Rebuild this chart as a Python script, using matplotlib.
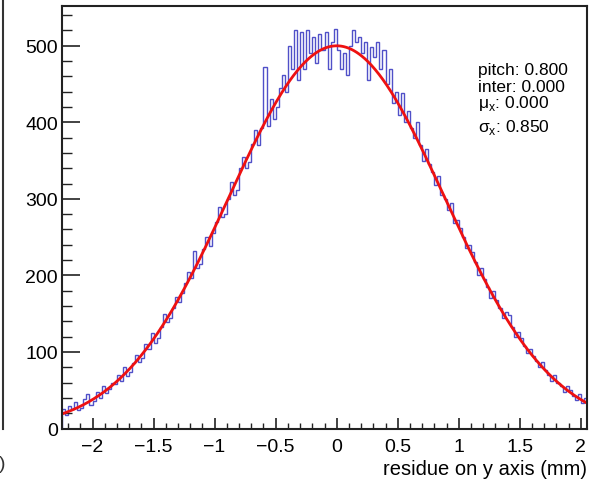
import matplotlib

matplotlib.use("Agg")
import matplotlib.pyplot as plt
import numpy as np
from matplotlib.lines import Line2D
from matplotlib.ticker import MultipleLocator

plt.rcParams["font.family"] = ["Liberation Sans", "DejaVu Sans"]
plt.rcParams["mathtext.fontset"] = "custom"
plt.rcParams["mathtext.rm"] = "Liberation Sans"

# residue histogram, 0.025 mm bins from -2.25 to 2.05
bin_edges = np.linspace(-2.25, 2.05, 173)
counts_neg = [
    25, 18, 30, 26, 34, 24, 27, 38, 45, 31, 36, 48, 40, 55, 47, 52, 60, 58, 70, 62,
    81, 69, 74, 85, 96, 87, 92, 110, 104, 125, 112, 118, 133, 150, 139, 145, 158, 172, 165, 177,
    190, 205, 196, 232, 210, 215, 235, 250, 238, 255, 270, 290, 276, 280, 300, 322, 305, 312, 340, 355,
    340, 348, 372, 390, 370, 392, 472, 395, 430, 405, 420, 445, 462, 440, 500, 470, 520, 455, 518, 470,
    520, 490, 512, 478, 515, 495, 518, 470, 505, 522,
]
counts_pos = [
    495, 470, 490, 462, 500, 520, 505, 512, 490, 505, 455, 498, 485, 505, 470, 495, 450, 470, 425, 440,
    410, 438, 400, 415, 392, 380, 400, 370, 350, 365, 345, 335, 318, 330, 305, 300, 285, 295, 268, 272,
    262, 250, 236, 240, 230, 218, 200, 210, 195, 185, 170, 180, 168, 158, 145, 152, 148, 133, 120, 126,
    118, 108, 98, 104, 95, 88, 80, 87, 76, 70, 62, 70, 60, 55, 48, 55, 50, 43, 37, 45,
    33, 40,
]
counts = np.array(counts_neg + counts_pos, dtype=float)

# gaussian fit parameters
fit_amp = 500.0
fit_mean = 0.0
fit_sigma = 0.88

info_lines = [
    "pitch: 0.800",
    "inter: 0.000",
    "\u03bc$_\\mathregular{x}$: 0.000",
    "\u03c3$_\\mathregular{x}$: 0.850",
]

W, H = 589, 485
fig = plt.figure(figsize=(W / 100, H / 100), dpi=100)
ax = fig.add_axes([62 / W, 55.5 / H, (587 - 62) / W, (429.5 - 7) / H])

ax.stairs(counts, bin_edges, color="#5050c8", lw=1.0)
xf = np.linspace(bin_edges[0], bin_edges[-1], 400)
ax.plot(xf, fit_amp * np.exp(-0.5 * ((xf - fit_mean) / fit_sigma) ** 2), color="#ee1111", lw=2.0)

ax.set_xlim(-2.25, 2.05)
ax.set_ylim(0, 552)
ax.xaxis.set_major_locator(MultipleLocator(0.5))
ax.xaxis.set_minor_locator(MultipleLocator(0.1))
ax.yaxis.set_major_locator(MultipleLocator(100))
ax.yaxis.set_minor_locator(MultipleLocator(20))
ax.xaxis.set_major_formatter(lambda v, p: f"{v:g}".replace("-", "\u2212"))

ax.tick_params(axis="both", which="both", direction="in", color="#222222", labelsize=14)
ax.tick_params(axis="x", which="major", length=8, width=1.2, pad=7)
ax.tick_params(axis="x", which="minor", length=4, width=1.0)
ax.tick_params(axis="y", which="major", length=13, width=1.2, pad=3)
ax.tick_params(axis="y", which="minor", length=7, width=1.0)
ax.tick_params(top=False, right=False)
for s in ax.spines.values():
    s.set_linewidth(1.5)
    s.set_color("#222222")

fig.text(587 / W, (H - 475) / H, "residue on y axis (mm)", ha="right", va="baseline", fontsize=14.5)

baselines = [75, 92, 108, 132]
for line, yb in zip(info_lines, baselines):
    fig.text(478 / W, (H - yb) / H, line, ha="left", va="baseline", fontsize=12.5)

# edge of the neighbouring panel
fig.add_artist(Line2D([3 / W, 3 / W], [1, (H - 430) / H], color="#333333", lw=1.5))
fig.text(5 / W, (H - 465) / H, ")", ha="right", va="center", fontsize=14, color="#333333")

fig.savefig("out.png", dpi=100)
